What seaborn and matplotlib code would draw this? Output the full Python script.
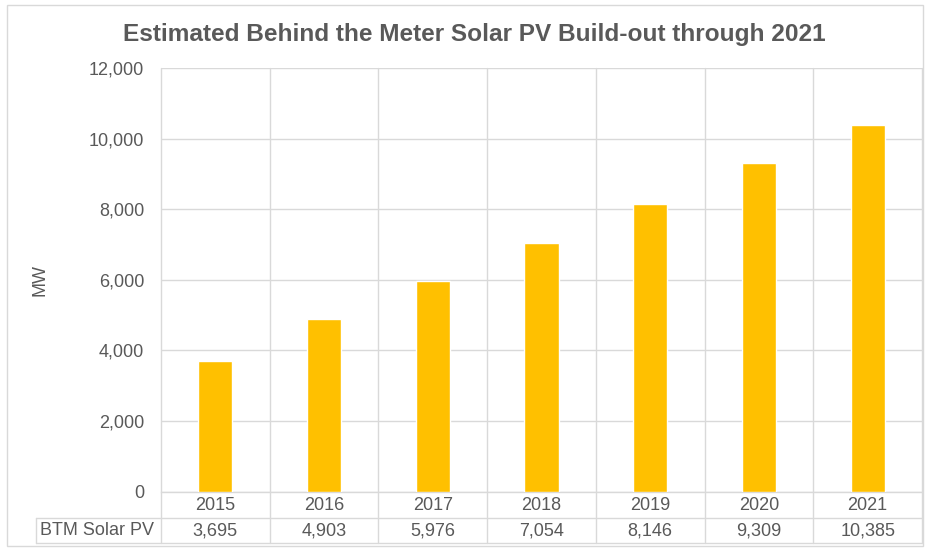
import matplotlib
matplotlib.use("Agg")
import matplotlib.pyplot as plt
import matplotlib.transforms as mtransforms
from matplotlib import font_manager
from matplotlib.lines import Line2D
from matplotlib.patches import Rectangle
import seaborn as sns
import pandas as pd

years = ["2015", "2016", "2017", "2018", "2019", "2020", "2021"]
values = [3695, 4903, 5976, 7054, 8146, 9309, 10385]
series_name = "BTM Solar PV"
title = "Estimated Behind the Meter Solar PV Build-out through 2021"
y_label = "MW"
y_ticks = [0, 2000, 4000, 6000, 8000, 10000, 12000]

sns.set_theme(style="white")
names = {f.name for f in font_manager.fontManager.ttflist}
base_font = "Liberation Sans" if "Liberation Sans" in names else "DejaVu Sans"
title_font = "Liberation Sans Narrow" if "Liberation Sans Narrow" in names else base_font
title_size = 20 if title_font.endswith("Narrow") else 17.6
plt.rcParams["font.family"] = [base_font, "DejaVu Sans"]

TXT = "#595959"
GRID = "#D9D9D9"
BAR = "#FFC000"
W, H = 926, 548

fig = plt.figure(figsize=(W / 100, H / 100), dpi=100)
fig.patch.set_facecolor("white")

x0, x1, ytop, ybot = 161, 922, 68, 491.7
ax = fig.add_axes([x0 / W, (H - ybot) / H, (x1 - x0) / W, (ybot - ytop) / H])

df = pd.DataFrame({"year": years, "value": values})
sns.barplot(data=df, x="year", y="value", color=BAR, width=0.313,
            saturation=1, ax=ax, zorder=3)

ax.set_xlim(-0.5, len(years) - 0.5)
ax.set_ylim(0, 12000)
ax.set_yticks(y_ticks)
ax.set_yticklabels([f"{v:,}" for v in y_ticks], color=TXT, fontsize=13)
ax.tick_params(axis="y", length=0, pad=12)
ax.set_xticks([])
ax.set_xlabel("")
ax.set_ylabel("")
ax.yaxis.grid(True, color=GRID, linewidth=1.0)
ax.set_axisbelow(True)
for s in ["top", "left", "right"]:
    ax.spines[s].set_visible(False)
ax.spines["bottom"].set_color(GRID)
ax.spines["bottom"].set_linewidth(1.0)

# vertical category gridlines extending into data table
tbl_row = 518
tbl_bot = 543.3
axh = ybot - ytop
ymin = -(tbl_bot - ybot) / axh
for k in range(len(years) + 1):
    ax.axvline(k - 0.5, ymin=ymin, ymax=1, color=GRID, linewidth=1.0,
               clip_on=False, zorder=1)

# table lines
for yy in [tbl_row, tbl_bot]:
    fig.add_artist(Line2D([36 / W, x1 / W], [(H - yy) / H] * 2,
                          color=GRID, linewidth=1.0))
fig.add_artist(Line2D([36 / W, 36 / W], [(H - tbl_row) / H, (H - tbl_bot) / H],
                      color=GRID, linewidth=1.0))

trans = mtransforms.blended_transform_factory(ax.transData, fig.transFigure)
for i, (yr, v) in enumerate(zip(years, values)):
    ax.text(i, (H - 505) / H, yr, transform=trans, ha="center", va="center",
            color=TXT, fontsize=13)
    ax.text(i, (H - 530.5) / H, f"{v:,}", transform=trans, ha="center",
            va="center", color=TXT, fontsize=13)
fig.text(40 / W, (H - 530.5) / H, series_name, ha="left", va="center",
         color=TXT, fontsize=13)

fig.text(40 / W, (H - 280) / H, y_label, rotation=90, ha="center", va="center",
         color=TXT, fontsize=13)

fig.text(474 / W, (H - 34) / H, title, ha="center", va="center", color=TXT,
         fontsize=title_size, fontweight="bold", family=[title_font, "DejaVu Sans"])

# chart outer border
fig.add_artist(Rectangle((7 / W, (H - 546) / H), (923 - 7) / W, (546 - 5) / H,
                         fill=False, edgecolor=GRID, linewidth=1.0))

fig.savefig("out.png", dpi=100, facecolor="white")
